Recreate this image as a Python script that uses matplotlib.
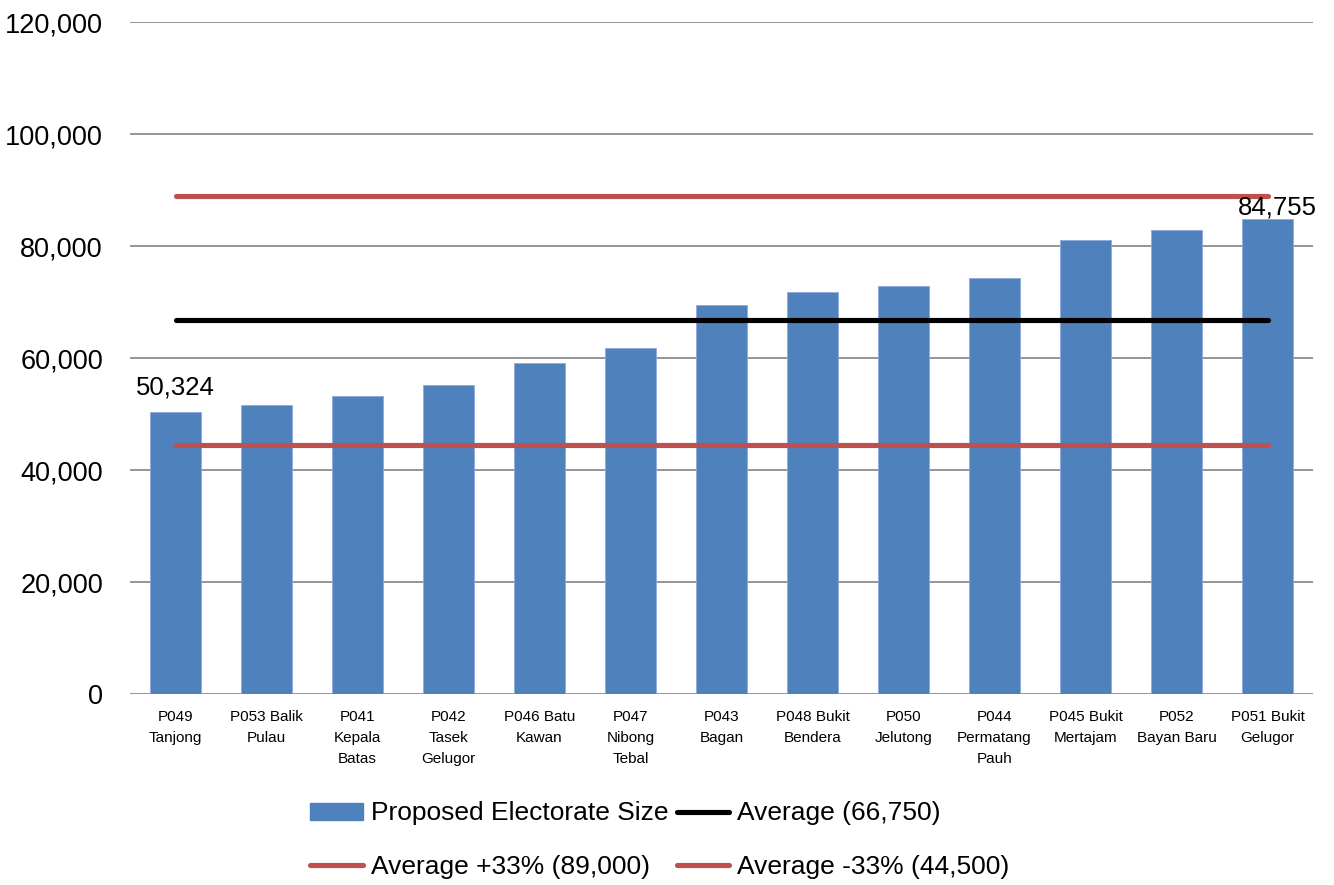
import matplotlib
matplotlib.use("Agg")
import matplotlib.pyplot as plt
from matplotlib.patches import Patch
from matplotlib.lines import Line2D
import numpy as np

categories = ["P049\nTanjong", "P053 Balik\nPulau", "P041\nKepala\nBatas", "P042\nTasek\nGelugor",
              "P046 Batu\nKawan", "P047\nNibong\nTebal", "P043\nBagan", "P048 Bukit\nBendera",
              "P050\nJelutong", "P044\nPermatang\nPauh", "P045 Bukit\nMertajam", "P052\nBayan Baru",
              "P051 Bukit\nGelugor"]
electorate = [50324, 51600, 53200, 55200, 59100, 61700, 69400, 71800, 72900, 74200, 81100, 82900, 84755]
average = 66750
upper = 89000
lower = 44500
yticks = [0, 20000, 40000, 60000, 80000, 100000, 120000]

plt.rcParams['font.family'] = ['Liberation Sans', 'DejaVu Sans']

BLUE = "#4F81BD"
RED = "#C0504D"

fig = plt.figure(figsize=(13.34, 8.85), dpi=100)
ax = fig.add_axes([130/1334, 1-694/885, (1313-130)/1334, (694-22)/885])

x = np.arange(len(categories))
ax.bar(x, electorate, width=0.57, color=BLUE, edgecolor="#8EAADB", linewidth=0.6, zorder=2)
ax.plot([x[0], x[-1]], [upper, upper], color=RED, lw=3.7, solid_capstyle='round', zorder=3)
ax.plot([x[0], x[-1]], [average, average], color="black", lw=3.7, solid_capstyle='round', zorder=3)
ax.plot([x[0], x[-1]], [lower, lower], color=RED, lw=3.7, solid_capstyle='round', zorder=3)

ax.set_xlim(-0.5, len(categories) - 0.5)
ax.set_ylim(0, 120000)
ax.set_yticks(yticks)
ax.set_yticklabels([f"{v:,}" for v in yticks], fontsize=19.5)
ax.yaxis.grid(True, color="#8C8C8C", lw=1.3, zorder=0)
ax.set_axisbelow(True)
for s in ["left", "right", "top", "bottom"]:
    ax.spines[s].set_visible(False)
ax.tick_params(axis='y', length=0, pad=19.5)
ax.tick_params(axis='x', length=0, pad=11.5)
ax.set_xticks(x)
ax.set_xticklabels(categories, fontsize=11, linespacing=1.62, va='top')

ax.annotate(f"{electorate[0]:,}", (x[0], electorate[0]), xytext=(0, 9), textcoords='offset points',
            ha='center', va='bottom', fontsize=18.5, annotation_clip=False)
ax.annotate(f"{electorate[-1]:,}", (x[-1], electorate[-1]), xytext=(7, 0), textcoords='offset points',
            ha='center', va='bottom', fontsize=18.5, annotation_clip=False)

handles = [Patch(facecolor=BLUE, edgecolor=BLUE),
           Line2D([0], [0], color=RED, lw=3.7, solid_capstyle='round'),
           Line2D([0], [0], color="black", lw=3.7, solid_capstyle='round'),
           Line2D([0], [0], color=RED, lw=3.7, solid_capstyle='round')]
labels = ["Proposed Electorate Size", "Average +33% (89,000)", "Average (66,750)", "Average -33% (44,500)"]
fig.legend(handles, labels, ncol=2, loc='center', bbox_to_anchor=(660/1334, 1-840/885),
           frameon=False, fontsize=19, handlelength=2.0, handleheight=0.6, handletextpad=0.3,
           columnspacing=0.3, labelspacing=1.1)

fig.savefig("out.png", dpi=100)
